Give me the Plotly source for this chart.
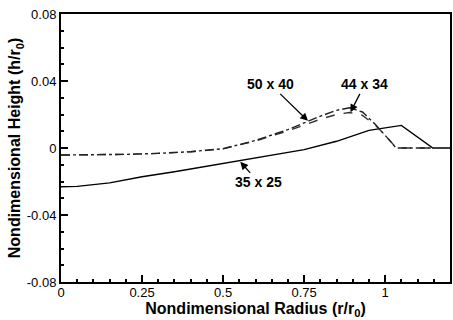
import plotly.graph_objects as go

# 35 x 25 grid (solid)
r_35 = [0, 0.05, 0.15, 0.25, 0.35, 0.45, 0.55, 0.65, 0.75, 0.85, 0.95, 1.05, 1.147, 1.2]
h_35 = [-0.0231, -0.0229, -0.0208, -0.0172, -0.0142, -0.0110, -0.0078, -0.0045, -0.0010, 0.0040, 0.0105, 0.0135, 0.0, 0.0]

# 50 x 40 grid (dash-dot)
r_50 = [0, 0.1, 0.2, 0.3, 0.4, 0.5, 0.6, 0.7, 0.8, 0.85, 0.89, 0.93, 0.97, 1.0, 1.034, 1.1, 1.15]
h_50 = [-0.0042, -0.0041, -0.0038, -0.0032, -0.0022, -0.0004, 0.0045, 0.0110, 0.0190, 0.0225, 0.0240, 0.0215, 0.0140, 0.0075, 0.0, 0.0, 0.0]

# 44 x 34 grid (dashed)
r_44 = [0, 0.1, 0.2, 0.3, 0.4, 0.5, 0.6, 0.7, 0.8, 0.85, 0.89, 0.93, 0.97, 1.0, 1.034, 1.1, 1.15]
h_44 = [-0.0042, -0.0041, -0.0038, -0.0032, -0.0022, -0.0005, 0.0042, 0.0102, 0.0172, 0.0200, 0.0212, 0.0195, 0.0135, 0.0078, 0.0, 0.0, 0.0]

labels = ["50 x 40", "44 x 34", "35 x 25"]
label_pos = [(0.646, 0.038), (0.937, 0.038), (0.61, -0.0205)]
arrow_head = [(0.762, 0.0162), (0.893, 0.0214), (0.553, -0.0082)]

x_ticks = [0, 0.25, 0.5, 0.75, 1]
x_tick_text = ["0", "0.25", "0.5", "0.75", "1"]
y_ticks = [-0.08, -0.04, 0, 0.04, 0.08]
y_tick_text = ["-0.08", "-0.04", "0", "0.04", "0.08"]

FONT = "Arial, Liberation Sans, Helvetica, sans-serif"

fig = go.Figure()
fig.add_trace(go.Scatter(x=r_35, y=h_35, mode="lines", line=dict(color="black", width=1.4, dash="solid"), showlegend=False))
fig.add_trace(go.Scatter(x=r_44, y=h_44, mode="lines", line=dict(color="#333333", width=1.4, dash="dash"), showlegend=False))
fig.add_trace(go.Scatter(x=r_50, y=h_50, mode="lines", line=dict(color="#222222", width=1.4, dash="dashdot"), showlegend=False))

for lab, (tx, ty), (hx, hy) in zip(labels, label_pos, arrow_head):
    fig.add_annotation(x=hx, y=hy, ax=tx, ay=ty, xref="x", yref="y", axref="x", ayref="y",
                       text=lab, showarrow=True, arrowhead=2, arrowsize=1.2, arrowwidth=1.3,
                       arrowcolor="black", font=dict(family=FONT, size=14, color="black", weight="bold"))

axis_common = dict(showline=True, linecolor="black", linewidth=2, mirror=True, ticks="inside",
                   ticklen=7, tickwidth=1.5, tickcolor="black", showgrid=False, zeroline=False,
                   tickfont=dict(family=FONT, size=13, color="black"))

fig.update_xaxes(range=[0, 1.2], tickvals=x_ticks, ticktext=x_tick_text, ticklabelstandoff=-3,
                 title=dict(text="Nondimensional Radius (r/r<sub>0</sub>)", font=dict(family=FONT, size=16, color="black", weight="bold"), standoff=0),
                 minor=dict(ticks="inside", ticklen=3, tickcolor="black", dtick=0.05, tick0=0, showgrid=False),
                 **axis_common)
fig.update_yaxes(range=[-0.08, 0.08], tickvals=y_ticks, ticktext=y_tick_text,
                 title=dict(text="Nondimensional Height (h/r<sub>0</sub>)", font=dict(family=FONT, size=16, color="black", weight="bold"), standoff=2),
                 minor=dict(ticks="inside", ticklen=3, tickcolor="black", dtick=0.01, tick0=0, showgrid=False),
                 **axis_common)

fig.update_layout(width=453, height=320, margin=dict(l=61, r=1, t=14, b=38),
                  plot_bgcolor="white", paper_bgcolor="white")

fig.write_html("out.html")
